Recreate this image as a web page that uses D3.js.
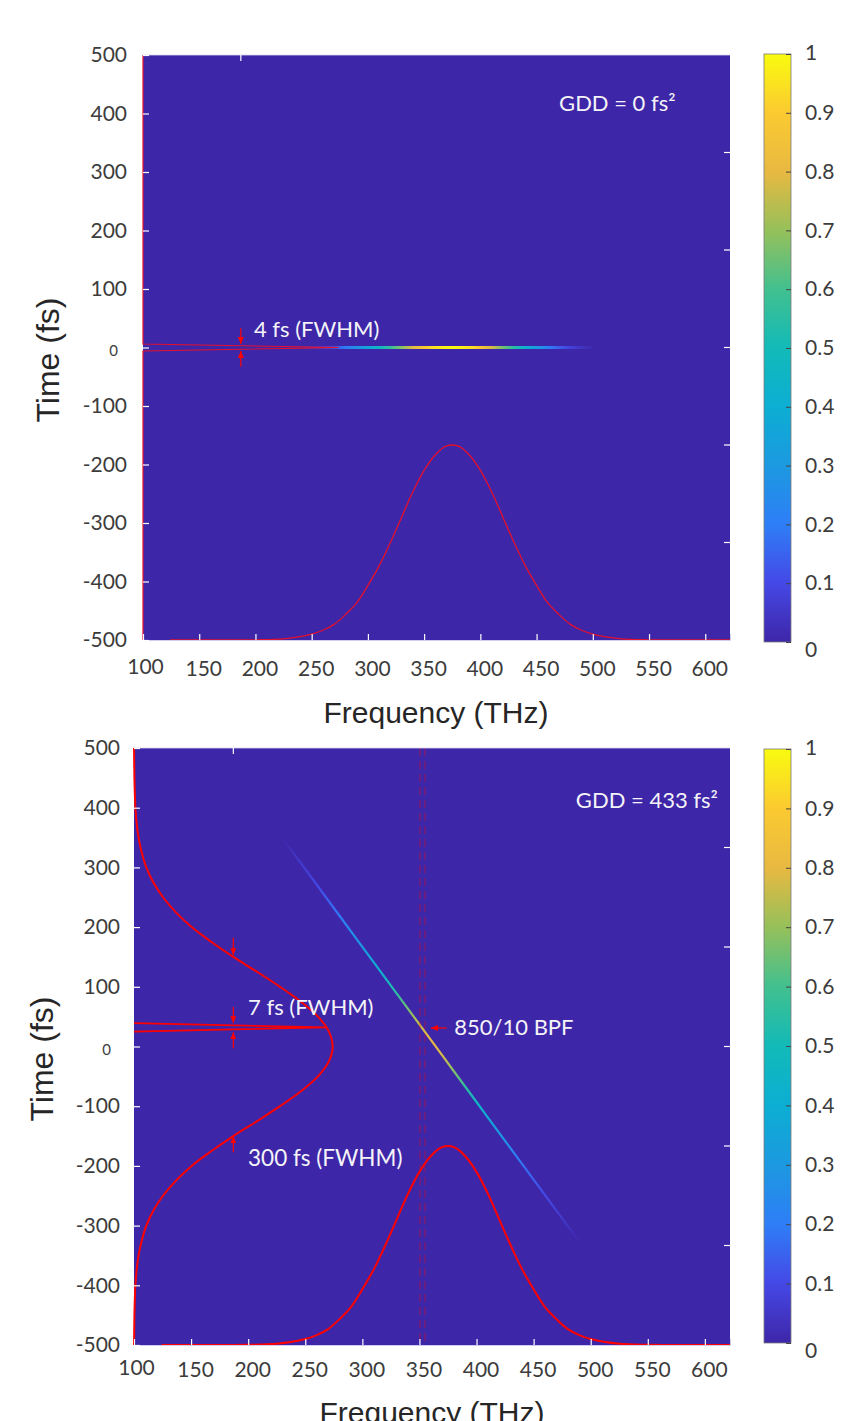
<!DOCTYPE html>
<html>
<head>
<meta charset="utf-8">
<script src="https://cdn.jsdelivr.net/npm/d3@7"></script>
<style>
  html, body { margin: 0; padding: 0; background: #ffffff; }
  svg { display: block; }
</style>
</head>
<body>
<svg id="fig" width="867" height="1421"></svg>
<script>
// ---------------- data ----------------
const freqTicks = [100, 150, 200, 250, 300, 350, 400, 450, 500, 550, 600];
const timeTicks = [500, 400, 300, 200, 100, 0, -100, -200, -300, -400, -500];
const cbarTicks = [0, 0.1, 0.2, 0.3, 0.4, 0.5, 0.6, 0.7, 0.8, 0.9, 1];

// spectrum (normalised) shown along the bottom of both panels
const specFreq = [124, 150, 175, 200, 225, 250, 260, 270, 280, 290, 300, 310, 320, 330, 340, 350, 360, 370,
                  380, 390, 400, 410, 420, 430, 440, 450, 460, 470, 480, 490, 500, 525, 550, 575, 600, 622];
const specAmp  = [0, 0, 0, 0.001, 0.006, 0.03, 0.05, 0.08, 0.13, 0.19, 0.28, 0.38, 0.50, 0.63, 0.76, 0.87, 0.95, 0.995,
                  0.995, 0.95, 0.87, 0.76, 0.63, 0.50, 0.38, 0.28, 0.19, 0.13, 0.08, 0.05, 0.03, 0.006, 0.001, 0, 0, 0];

// time-frequency trace
const heatFreq   = [220, 230, 240, 250, 260, 270, 280, 290, 300, 310, 320, 330, 340, 350, 360,
                    370, 380, 390, 400, 410, 420, 430, 440, 450, 460, 470, 480, 490, 500];
const heatTop    = [0, 0.01, 0.02, 0.04, 0.07, 0.12, 0.19, 0.27, 0.36, 0.46, 0.57, 0.68, 0.79, 0.88, 0.95,
                    0.99, 0.99, 0.95, 0.88, 0.78, 0.66, 0.54, 0.42, 0.31, 0.22, 0.14, 0.08, 0.04, 0.01];
const heatBottom = [0, 0, 0.04, 0.07, 0.10, 0.14, 0.19, 0.25, 0.30, 0.37, 0.45, 0.55, 0.66, 0.76, 0.80,
                    0.78, 0.68, 0.56, 0.46, 0.37, 0.30, 0.24, 0.18, 0.14, 0.10, 0.07, 0.04, 0, 0];
const chirpDelay = [375, 349, 323, 297, 271, 245, 219, 193, 167, 141, 115, 89, 63, 37, 11,
                    -15, -41, -67, -93, -119, -145, -171, -197, -223, -249, -275, -301, -327, -353];

// temporal intensity profiles (normalised)
const pulseTopTime = [-500, -6, 0, 6, 500];
const pulseTopAmp  = [0, 0, 1, 0, 0];
const pulseBroadTime = [-500, -475, -450, -425, -400, -375, -350, -325, -300, -275, -250, -225, -200, -175, -150,
                        -125, -100, -75, -50, -25, 0, 25, 50, 75, 100, 125, 150, 175, 200, 225, 250, 275, 300,
                        325, 350, 375, 400, 425, 450, 475, 500];
const pulseBroadAmp  = [0, 0.001, 0.002, 0.004, 0.007, 0.013, 0.023, 0.039, 0.062, 0.097, 0.146, 0.21, 0.29, 0.39, 0.50,
                        0.62, 0.735, 0.84, 0.926, 0.981, 1, 0.981, 0.926, 0.84, 0.735, 0.62, 0.50, 0.39, 0.29, 0.21,
                        0.146, 0.097, 0.062, 0.039, 0.023, 0.013, 0.007, 0.004, 0.002, 0.001, 0];
const spikeTime = [39, 32, 25];
const spikeAmp  = [0, 0.97, 0];

// band-pass filter edges (THz)
const bpfEdges = [350.6, 354.8];

// colour map
const parulaStops  = [0, 0.1, 0.2, 0.3, 0.4, 0.5, 0.6, 0.7, 0.8, 0.9, 1];
const parulaColors = ["#3E26A8", "#4548E6", "#2E7EF7", "#1C99E0", "#0CAED3", "#12BAB8",
                      "#42C08F", "#96C05A", "#E8B941", "#FBCA31", "#F9FB0E"];
const cmap = d3.scaleLinear().domain(parulaStops).range(parulaColors)
  .interpolate(d3.interpolateRgb).clamp(true);

// ---------------- drawing ----------------
const svg = d3.select("#fig");
const defs = svg.append("defs");
const FONT_NUM = "Lato, 'Open Sans', sans-serif";
const FONT_TITLE = "'Liberation Sans', Arial, sans-serif";
const TICK_COLOR = "#3c3c3c";

defs.append("marker").attr("id", "arrowRed")
  .attr("markerUnits", "userSpaceOnUse")
  .attr("viewBox", "0 0 7 6").attr("markerWidth", 7).attr("markerHeight", 6)
  .attr("refX", 7).attr("refY", 3).attr("orient", "auto")
  .append("path").attr("d", "M0,0 L7,3 L0,6 Z").attr("fill", "#ff0000");

const panels = [
  { left: 143, right: 730, top: 55, bottom: 640, cbTop: 54, cbBottom: 642,
    gdd: "GDD = 0 fs²", ylabPad: 16, xlabOff: 29,
    yTitle: [48, 360], xTitle: [436, 712], curveW: 1.3, curveColor: "#e4102c" },
  { left: 134, right: 730, top: 748, bottom: 1345, cbTop: 749, cbBottom: 1343,
    gdd: "GDD = 433 fs²", ylabPad: 14, xlabOff: 25,
    yTitle: [42, 1059], xTitle: [432, 1412], curveW: 2, curveColor: "#ff0000" }
];

panels.forEach((p, idx) => {
  const g = svg.append("g");
  const x = d3.scaleLinear().domain([100, 622]).range([p.left, p.right]);
  const y = d3.scaleLinear().domain([-500, 500]).range([p.bottom, p.top]);
  // secondary axes for the normalised profiles
  const xSec = d3.scaleLinear().domain([0, 3]).range([p.left, p.right]);
  const ySec = d3.scaleLinear().domain([0, 3]).range([p.bottom, p.top]);

  // background (zero level of the colour map)
  g.append("rect").attr("x", p.left).attr("y", p.top)
    .attr("width", p.right - p.left).attr("height", p.bottom - p.top)
    .attr("fill", cmap(0));

  // time-frequency trace
  const delays = idx === 0 ? heatFreq.map(() => 0) : chirpDelay;
  const vals = idx === 0 ? heatTop : heatBottom;
  const pts = heatFreq.map((f, i) => [x(f), y(delays[i])]);
  const p0 = pts[0], pN = pts[pts.length - 1];
  const dx = pN[0] - p0[0], dy = pN[1] - p0[1], L2 = dx * dx + dy * dy;
  const grad = defs.append("linearGradient").attr("id", "trace" + idx)
    .attr("gradientUnits", "userSpaceOnUse")
    .attr("x1", p0[0]).attr("y1", p0[1]).attr("x2", pN[0]).attr("y2", pN[1]);
  pts.forEach((pt, i) => {
    const off = ((pt[0] - p0[0]) * dx + (pt[1] - p0[1]) * dy) / L2;
    grad.append("stop").attr("offset", off).attr("stop-color", cmap(vals[i]));
  });
  g.append("path").attr("d", d3.line()(pts)).attr("fill", "none")
    .attr("stroke", `url(#trace${idx})`).attr("stroke-width", idx === 0 ? 3 : 2.2);

  // band-pass filter markers
  if (idx === 1) {
    g.selectAll("line.bpf").data(bpfEdges).join("line").attr("class", "bpf")
      .attr("x1", d => x(d)).attr("x2", d => x(d))
      .attr("y1", p.top).attr("y2", p.bottom)
      .attr("stroke", "#ff0000").attr("stroke-opacity", 0.42)
      .attr("stroke-width", 1.1).attr("stroke-dasharray", "8,5");
  }

  // spectrum
  g.append("path")
    .attr("d", d3.line().x((d, i) => x(specFreq[i])).y(d => ySec(d))
      .curve(d3.curveCatmullRom.alpha(0.5))(specAmp))
    .attr("fill", "none").attr("stroke", p.curveColor).attr("stroke-width", p.curveW);

  // temporal profile(s)
  const profLine = (times) => d3.line().x(d => xSec(d)).y((d, i) => y(times[i]));
  if (idx === 0) {
    g.append("path").attr("d", profLine(pulseTopTime)(pulseTopAmp))
      .attr("fill", "none").attr("stroke", p.curveColor).attr("stroke-width", 1.2);
  } else {
    g.append("path").attr("d", profLine(pulseBroadTime).curve(d3.curveCatmullRom.alpha(0.5))(pulseBroadAmp))
      .attr("fill", "none").attr("stroke", p.curveColor).attr("stroke-width", p.curveW);
    g.append("path").attr("d", profLine(spikeTime)(spikeAmp))
      .attr("fill", "none").attr("stroke", p.curveColor).attr("stroke-width", 1.8);
  }

  // top frame edge
  g.append("line").attr("x1", p.left).attr("x2", p.right).attr("y1", p.top).attr("y2", p.top)
    .attr("stroke", "#d8d4f0").attr("stroke-width", 0.8);

  // primary x axis
  const gx = g.append("g").attr("transform", `translate(0,${p.bottom})`)
    .call(d3.axisBottom(x).tickValues(freqTicks).tickSize(-6).tickFormat(d3.format("d")));
  gx.select(".domain").attr("stroke", "#d0ccf4").attr("stroke-width", 1);
  gx.selectAll(".tick line").attr("stroke", "#ffffff").attr("stroke-width", 1.2);
  gx.selectAll(".tick text").attr("y", p.xlabOff).attr("dy", "0.35em").attr("x", 4)
    .attr("fill", TICK_COLOR).attr("font-family", FONT_NUM).attr("font-size", 21);
  gx.selectAll(".tick text").filter(d => d === 100).attr("y", p.xlabOff - 2).attr("x", 2);

  // primary y axis
  const gy = g.append("g").attr("transform", `translate(${p.left},0)`)
    .call(d3.axisLeft(y).tickValues(timeTicks).tickSize(-6).tickPadding(p.ylabPad).tickFormat(d3.format("d")));
  gy.select(".domain").remove();
  gy.selectAll(".tick line").attr("stroke", "#ffffff").attr("stroke-width", 1.2);
  gy.selectAll(".tick text").attr("fill", TICK_COLOR).attr("font-family", FONT_NUM).attr("font-size", 21)
    .text(d => d < 0 ? "-" + Math.abs(d) : String(d));
  gy.selectAll(".tick text").filter(d => d === 0)
    .attr("font-size", 15).attr("x", -(p.ylabPad + 9)).attr("dy", "0.55em");

  // secondary axis ticks (right and top edges)
  g.selectAll("line.rtick").data([0.5, 1, 1.5, 2, 2.5]).join("line").attr("class", "rtick")
    .attr("x1", p.right - 6).attr("x2", p.right).attr("y1", d => ySec(d)).attr("y2", d => ySec(d))
    .attr("stroke", "#ffffff").attr("stroke-width", 1.2);
  g.selectAll("line.ttick").data([0.5]).join("line").attr("class", "ttick")
    .attr("x1", d => xSec(d)).attr("x2", d => xSec(d)).attr("y1", p.top).attr("y2", p.top + 6)
    .attr("stroke", "#ffffff").attr("stroke-width", 1.2);

  // axis titles
  g.append("text").attr("x", p.xTitle[0]).attr("y", p.xTitle[1]).attr("dy", "0.35em")
    .attr("text-anchor", "middle").attr("font-family", FONT_TITLE).attr("font-size", 30)
    .attr("fill", "#262626").text("Frequency (THz)");
  g.append("text").attr("transform", `translate(${p.yTitle[0]},${p.yTitle[1]}) rotate(-90)`)
    .attr("dy", "0.35em").attr("text-anchor", "middle").attr("font-family", FONT_TITLE)
    .attr("font-size", 32).attr("fill", "#262626").text("Time (fs)");

  // annotations
  const note = (px, py, txt) => g.append("text").attr("x", px).attr("y", py).attr("dy", "0.35em")
    .attr("font-family", FONT_NUM).attr("font-size", 22).attr("fill", "#f4f4f8").text(txt);
  const arrow = (x1, y1, x2, y2) => g.append("line")
    .attr("x1", x1).attr("y1", y1).attr("x2", x2).attr("y2", y2)
    .attr("stroke", "#ff0000").attr("stroke-width", 1.2).attr("marker-end", "url(#arrowRed)");

  if (idx === 0) {
    note(x(470), y(418), p.gdd);
    note(xSec(0.567), y(31), "4 fs (FWHM)");
    arrow(xSec(0.5), y(33), xSec(0.5), y(6));
    arrow(xSec(0.5), y(-33), xSec(0.5), y(-6));
  } else {
    note(x(487), y(413), p.gdd);
    note(xSec(0.574), y(66), "7 fs (FWHM)");
    note(xSec(0.574), y(-187), "300 fs (FWHM)").attr("font-size", 22.5);
    note(x(380.5), y(32), "850/10 BPF");
    arrow(x(374), y(31), x(360), y(31));
    arrow(xSec(0.5), y(182), xSec(0.5), y(153));
    arrow(xSec(0.5), y(66), xSec(0.5), y(39));
    arrow(xSec(0.5), y(-3), xSec(0.5), y(24));
    arrow(xSec(0.5), y(-177), xSec(0.5), y(-150));
  }

  // colour bar
  const cbX = 764, cbW = 27;
  const c = d3.scaleLinear().domain([0, 1]).range([p.cbBottom, p.cbTop]);
  const cg = defs.append("linearGradient").attr("id", "cbar" + idx)
    .attr("x1", 0).attr("y1", 1).attr("x2", 0).attr("y2", 0);
  parulaStops.forEach((s, i) => cg.append("stop").attr("offset", s).attr("stop-color", parulaColors[i]));
  g.append("rect").attr("x", cbX).attr("y", p.cbTop).attr("width", cbW).attr("height", p.cbBottom - p.cbTop)
    .attr("fill", `url(#cbar${idx})`).attr("stroke", "#7a7a7a").attr("stroke-width", 0.8);
  const gc = g.append("g").attr("transform", `translate(${cbX + cbW},0)`)
    .call(d3.axisRight(c).tickValues(cbarTicks).tickSize(-5).tickPadding(14).tickFormat(d => String(d)));
  gc.select(".domain").remove();
  gc.selectAll(".tick line").attr("stroke", "#444").attr("stroke-width", 1);
  gc.selectAll(".tick text").attr("fill", TICK_COLOR).attr("font-family", FONT_NUM).attr("font-size", 21);
  gc.selectAll(".tick text").filter(d => d === 0).attr("dy", "0.7em");
  gc.selectAll(".tick text").filter(d => d === 1).attr("dy", "0.25em");
});
</script>
</body>
</html>
